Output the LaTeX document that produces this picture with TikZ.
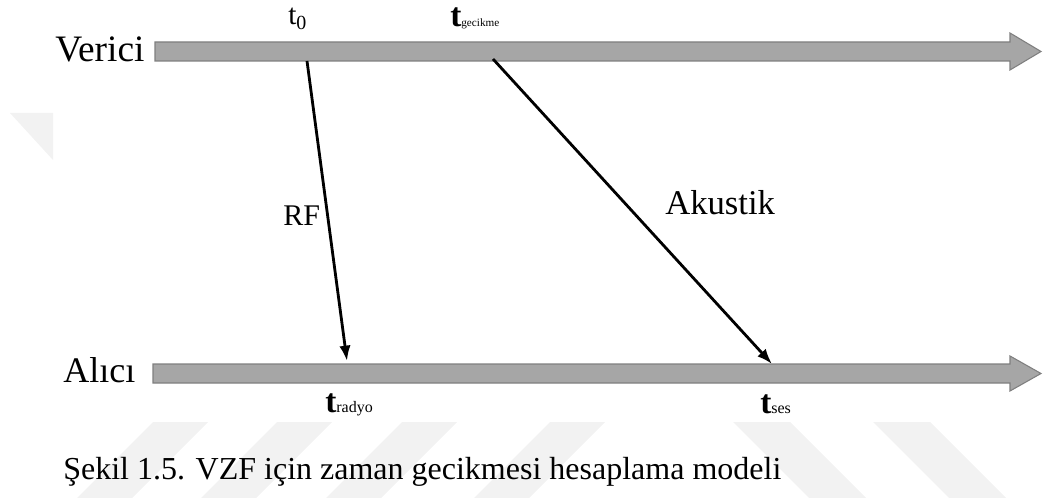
\documentclass[tikz,border=0pt]{standalone}
\usepackage{fontspec}
\setmainfont{Liberation Serif}
\usepackage{xcolor}
\definecolor{vzfband}{HTML}{A6A6A6}
\definecolor{vzfedge}{HTML}{7F7F7F}
\definecolor{vzfmark}{HTML}{F2F2F2}
\usetikzlibrary{arrows.meta,positioning,calc}
\tikzset{
  vzfbar/.style={draw=vzfedge,fill=vzfband,line width=0.8pt},
  vzfflow/.style={-{Latex[length=11.5pt,width=8.5pt]},line width=2.1pt},
  vzfside/.style={anchor=base west,inner sep=0pt,font=\fontsize{28}{30}\selectfont},
  vzflabel/.style={anchor=base west,inner sep=0pt},
  vzfwm/.style={fill=vzfmark,draw=none},
}
\newcommand{\vzft}[2]{\textbf{\fontsize{25}{28}\selectfont t}{\fontsize{#1}{#1}\selectfont #2}}

\begin{document}
\begin{tikzpicture}[x=0.75pt,y=-0.75pt]
\useasboundingbox (0,0) rectangle (1044,498);
% faint background marks
\fill[vzfwm] (10,113) -- (53,113) -- (53,160) -- cycle;
\foreach \xa in {153,277,402,550}
  \fill[vzfwm] (\xa,422) -- (\xa+55,422) -- (\xa-21,498) -- (\xa-76,498) -- cycle;
\foreach \xa in {733,873}
  \fill[vzfwm] (\xa,422) -- (\xa+57,422) -- (\xa+133,498) -- (\xa+76,498) -- cycle;
% time bands
\draw[vzfbar] (155,42) -- (1010,42) -- (1010,33) -- (1041,51.5) -- (1010,70) -- (1010,61) -- (155,61) -- cycle;
\draw[vzfbar] (153,364) -- (1010,364) -- (1010,356) -- (1041,373.5) -- (1010,391) -- (1010,383) -- (153,383) -- cycle;
\coordinate (rfout) at (307,61);
\coordinate (rfin) at (347,361);
\coordinate (akout) at (493,59);
\coordinate (akin) at (772,364);
\node[vzfside] (verici) at (55,62) {Verici};
\node[vzfside,font=\fontsize{27}{30}\selectfont] (alici) at (63,382) {Alıcı};
\node[vzflabel,font=\fontsize{22}{24}\selectfont] (tzero) at (288,25) {t\raisebox{-3.75pt}{\fontsize{15}{15}\selectfont 0}};
\node[vzflabel] (tgec) at (450,27) {\vzft{8.4}{gecikme}};
\node[vzflabel] (trad) at (325,412) {\vzft{12}{radyo}};
\node[vzflabel] (tses) at (760,413) {\vzft{12}{ses}};
\node[vzflabel,font=\fontsize{22.5}{24}\selectfont] (rf) at (283,226) {RF};
\node[vzflabel,font=\fontsize{26}{28}\selectfont] (akustik) at (665,215) {Akustik};
\node[vzflabel,font=\fontsize{24}{26}\selectfont] (caption) at (63,479) {Şekil 1.5. VZF için zaman gecikmesi hesaplama modeli};
\draw[vzfflow] (rfout) -- (rfin);
\draw[vzfflow] (akout) -- (akin);
\end{tikzpicture}
\end{document}
